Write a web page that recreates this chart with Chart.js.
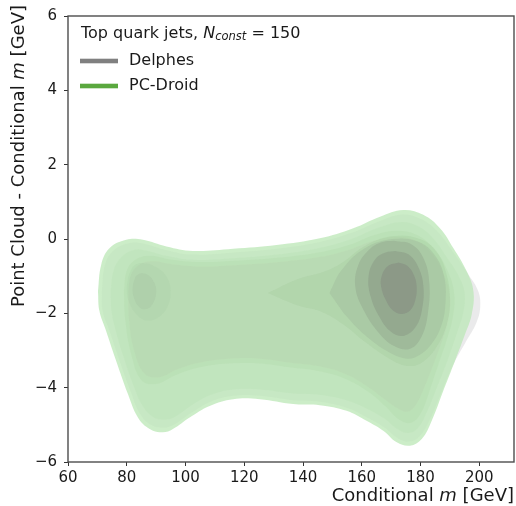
<!DOCTYPE html>
<html>
<head>
<meta charset="utf-8">
<script src="https://cdn.jsdelivr.net/npm/chart.js@4.4.1/dist/chart.umd.min.js"></script>
<style>
  html, body { margin: 0; padding: 0; background: #ffffff; }
  #wrap { width: 516px; height: 506px; }
</style>
</head>
<body>
<div id="wrap"><canvas id="c" width="516" height="506"></canvas></div>
<script>
// Axis ticks
const xTicks = [60, 80, 100, 120, 140, 160, 180, 200];
const yTicks = [-6, -4, -2, 0, 2, 4, 6];

// Legend entries
const legendTitle = 'Top quark jets';
const nConst = 150;
const seriesNames = ['Delphes', 'PC-Droid'];

// KDE contour levels (conditional m [GeV], point cloud - conditional m [GeV])
// Delphes, outermost level
const delphesL1_x = [71.5,72.5,75.2,80.3,85.5,93.5,102.5,116.2,131.0,145.7,157.0,166.0,173.8,180.3,186.0,191.5,196.5,199.6,200.3,199.0,195.5,191.0,187.0,183.2,179.8,176.2,172.2,167.5,161.8,154.8,145.7,136.6,125.3,116.2,108.2,101.5,96.0,92.5,88.2,84.5,81.2,77.3,74.0,71.8];
const delphesL1_y = [-1.41,-0.72,-0.33,-0.12,-0.12,-0.30,-0.42,-0.36,-0.26,-0.08,0.18,0.48,0.66,0.53,0.18,-0.40,-0.98,-1.40,-1.82,-2.25,-2.75,-3.40,-4.15,-4.85,-5.30,-5.45,-5.36,-5.06,-4.80,-4.54,-4.38,-4.34,-4.22,-4.22,-4.39,-4.70,-5.00,-5.08,-5.00,-4.70,-4.08,-3.22,-2.45,-1.94];

// PC-Droid, outermost level
const droidL1_x = [70.2,71.3,74.1,79.8,85.5,93.5,102.5,116.2,131.0,145.7,157.1,166.2,174.1,180.9,186.6,191.2,195.7,198.0,197.4,195.1,191.7,187.7,183.8,180.4,176.4,171.9,167.3,161.6,154.8,145.7,136.6,125.3,116.2,108.2,101.4,95.7,92.3,87.8,83.8,80.4,76.4,73.0,70.7];
const droidL1_y = [-1.41,-0.69,-0.25,-0.02,-0.02,-0.20,-0.32,-0.26,-0.16,0.02,0.29,0.60,0.78,0.65,0.29,-0.25,-0.87,-1.41,-2.03,-2.57,-3.28,-4.09,-4.89,-5.38,-5.56,-5.47,-5.16,-4.89,-4.62,-4.47,-4.44,-4.31,-4.31,-4.49,-4.80,-5.11,-5.20,-5.11,-4.80,-4.17,-3.28,-2.48,-1.94];

// PC-Droid, second level
const droidL2_x = [74.5,75.5,78.0,82.0,86.0,93.5,102.5,116.2,131.0,145.5,156.5,165.5,173.5,179.5,184.5,189.0,193.0,195.0,194.5,192.5,189.5,185.8,182.2,179.2,176.0,172.2,168.0,162.5,155.5,146.0,136.6,125.3,116.2,108.5,102.0,96.5,92.8,88.8,85.3,82.3,78.8,76.0,74.8];
const droidL2_y = [-1.41,-0.85,-0.50,-0.30,-0.30,-0.45,-0.56,-0.52,-0.42,-0.24,0.00,0.30,0.46,0.33,0.00,-0.50,-1.00,-1.45,-2.00,-2.50,-3.20,-3.95,-4.65,-5.08,-5.22,-5.12,-4.85,-4.60,-4.36,-4.20,-4.16,-4.05,-4.05,-4.20,-4.48,-4.78,-4.86,-4.78,-4.48,-3.95,-3.15,-2.40,-1.94];

// Delphes, second level
const delphesL2_x = [80.5,81.5,84.5,89.0,95.5,105.0,118.0,132.0,146.0,156.0,164.0,172.0,178.5,184.0,188.0,190.0,189.5,187.5,184.5,181.5,178.5,175.5,172.0,167.5,161.5,154.0,145.0,135.0,125.0,115.0,105.0,97.5,91.0,86.0,82.5,80.8];
const delphesL2_y = [-1.40,-0.95,-0.68,-0.60,-0.68,-0.74,-0.70,-0.62,-0.48,-0.28,-0.05,0.05,-0.05,-0.42,-0.98,-1.55,-2.15,-2.70,-3.35,-3.95,-4.45,-4.65,-4.55,-4.30,-3.95,-3.62,-3.42,-3.32,-3.22,-3.22,-3.32,-3.50,-3.72,-3.62,-3.00,-2.20];

// PC-Droid, third level
const droidL3_x = [79.0,80.0,83.0,88.0,95.0,105.0,118.0,132.0,146.0,156.0,164.0,172.0,179.0,185.0,189.5,191.5,191.0,189.0,186.0,183.0,180.0,176.5,172.5,168.0,162.0,154.0,145.0,135.0,125.0,115.0,105.0,97.0,90.0,85.0,81.5,79.5];
const droidL3_y = [-1.40,-0.85,-0.55,-0.45,-0.55,-0.62,-0.58,-0.50,-0.35,-0.15,0.10,0.22,0.10,-0.30,-0.90,-1.50,-2.10,-2.70,-3.40,-4.10,-4.70,-4.95,-4.85,-4.50,-4.10,-3.75,-3.55,-3.45,-3.35,-3.35,-3.45,-3.65,-3.90,-3.80,-3.10,-2.20];

// Low-mass lobe
const droidLobe_x = [80.5,82.5,86.0,90.0,93.5,95.0,94.0,91.0,87.0,83.5,81.0,80.0];
const droidLobe_y = [-1.00,-0.72,-0.65,-0.75,-1.00,-1.40,-1.80,-2.10,-2.20,-2.05,-1.75,-1.40];
const delphesLobe_x = [83.0,85.0,87.5,89.5,90.0,89.0,87.0,84.5,82.5,82.0];
const delphesLobe_y = [-1.00,-0.92,-0.98,-1.20,-1.45,-1.72,-1.88,-1.85,-1.60,-1.30];

// Top-mass peak region
const droidL4_x = [128,138,147,153,161.6,170.7,179.8,185.5,188.9,190.0,188.9,185.5,180.9,176.4,170.7,161.6,153.7,146,138];
const droidL4_y = [-1.45,-1.08,-0.88,-0.65,-0.16,0.08,0.0,-0.34,-0.96,-1.65,-2.30,-2.90,-3.30,-3.42,-3.28,-2.80,-2.30,-1.95,-1.78];
const delphesL3_x = [149,153,161,170.5,179.5,185,188,188.5,187,183.5,179,175.5,170,162,155];
const delphesL3_y = [-1.45,-0.85,-0.25,0.0,-0.08,-0.45,-1.0,-1.7,-2.35,-2.85,-3.15,-3.22,-3.08,-2.65,-2.1];
const delphesL4_x = [171,177,181.2,183,182.5,180.5,176.5,171,165.5,160.5,157.8,158.8,163,167];
const delphesL4_y = [-0.05,-0.15,-0.55,-1.2,-2.0,-2.6,-2.95,-2.88,-2.5,-1.9,-1.3,-0.7,-0.25,-0.08];
const delphesL5_x = [171.5,176,179.5,181,180.5,178.5,174.5,170,166,163,162.3,164.5,168];
const delphesL5_y = [-0.32,-0.42,-0.8,-1.3,-1.9,-2.35,-2.6,-2.5,-2.1,-1.55,-1.0,-0.55,-0.36];
const delphesL6_x = [172.5,175.5,177.8,178.7,178.2,176.5,173.5,170.5,168.2,166.6,166.8,169];
const delphesL6_y = [-0.63,-0.72,-0.98,-1.3,-1.65,-1.92,-2.02,-1.92,-1.65,-1.3,-0.98,-0.72];

// Drawing order, bottom to top, with fill styles
const layers = [
  { xs: delphesL1_x,   ys: delphesL1_y,   fill: 'rgba(214,214,216,0.50)' },
  { xs: droidL1_x,     ys: droidL1_y,     fill: 'rgba(190,232,184,0.78)' },
  { xs: droidL2_x,     ys: droidL2_y,     fill: 'rgba(165,210,158,0.14)' },
  { xs: delphesL2_x,   ys: delphesL2_y,   fill: 'rgba(150,160,148,0.09)' },
  { xs: droidL3_x,     ys: droidL3_y,     fill: 'rgba(160,205,152,0.16)' },
  { xs: droidLobe_x,   ys: droidLobe_y,   fill: 'rgba(150,190,145,0.12)' },
  { xs: delphesLobe_x, ys: delphesLobe_y, fill: 'rgba(120,130,118,0.09)' },
  { xs: droidL4_x,     ys: droidL4_y,     fill: 'rgba(150,190,142,0.20)' },
  { xs: delphesL3_x,   ys: delphesL3_y,   fill: 'rgba(120,130,118,0.14)' },
  { xs: delphesL4_x,   ys: delphesL4_y,   fill: 'rgba(115,120,112,0.20)' },
  { xs: delphesL5_x,   ys: delphesL5_y,   fill: 'rgba(115,118,112,0.26)' },
  { xs: delphesL6_x,   ys: delphesL6_y,   fill: 'rgba(125,125,122,0.36)' }
];

const FONT = '"DejaVu Sans", "Liberation Sans", sans-serif';
const minus = v => String(v).replace('-', '\u2212');

const datasets = layers.map((L, i) => {
  const pts = L.xs.map((x, k) => ({ x: x, y: L.ys[k] }));
  pts.push({ x: L.xs[0], y: L.ys[0] });
  return {
    data: pts,
    fill: 'shape',
    backgroundColor: L.fill,
    borderWidth: 0,
    borderColor: 'rgba(0,0,0,0)',
    pointRadius: 0,
    tension: 0.4,
    order: layers.length - i
  };
});

// draws text made of upright / italic pieces starting at x
function drawPieces(ctx, pieces, x, y, size) {
  let cx = x;
  for (const p of pieces) {
    const s = p.size || size;
    ctx.font = (p.italic ? 'italic ' : '') + s + 'px ' + FONT;
    ctx.fillText(p.t, cx, y + (p.dy || 0));
    cx += ctx.measureText(p.t).width;
  }
  return cx - x;
}
function measurePieces(ctx, pieces, size) {
  let w = 0;
  for (const p of pieces) {
    const s = p.size || size;
    ctx.font = (p.italic ? 'italic ' : '') + s + 'px ' + FONT;
    w += ctx.measureText(p.t).width;
  }
  return w;
}

const decorations = {
  id: 'decorations',
  afterDraw(chart) {
    const ctx = chart.ctx;
    const a = chart.chartArea;
    ctx.save();
    // frame
    ctx.strokeStyle = '#4d4d4d';
    ctx.lineWidth = 1.4;
    ctx.strokeRect(a.left, a.top, a.right - a.left, a.bottom - a.top);

    ctx.fillStyle = '#1a1a1a';
    ctx.textBaseline = 'middle';
    ctx.textAlign = 'left';

    // x axis title, right aligned
    const xt = [{ t: 'Conditional ' }, { t: 'm', italic: true }, { t: ' [GeV]' }];
    const xw = measurePieces(ctx, xt, 18);
    drawPieces(ctx, xt, a.right - xw, 496, 18);

    // y axis title, top aligned
    const yt = [{ t: 'Point Cloud - Conditional ' }, { t: 'm', italic: true }, { t: ' [GeV]' }];
    const yw = measurePieces(ctx, yt, 18);
    ctx.save();
    ctx.translate(19, 5 + yw);
    ctx.rotate(-Math.PI / 2);
    drawPieces(ctx, yt, 0, 0, 18);
    ctx.restore();

    // legend
    const lx = 81;
    drawPieces(ctx, [
      { t: legendTitle + ', ' },
      { t: 'N', italic: true },
      { t: 'const', italic: true, size: 11.5, dy: 3.5 },
      { t: ' = ' + nConst }
    ], lx, 34, 16);
    const handleColors = ['#808080', '#5aa83e'];
    const rowsY = [61, 86];
    seriesNames.forEach((name, i) => {
      ctx.fillStyle = handleColors[i];
      ctx.fillRect(lx - 1, rowsY[i] - 2.3, 38, 4.6);
      ctx.fillStyle = '#1a1a1a';
      ctx.font = '16px ' + FONT;
      ctx.fillText(name, lx + 48, rowsY[i]);
    });
    ctx.restore();
  }
};

new Chart(document.getElementById('c'), {
  type: 'line',
  data: { datasets: datasets },
  options: {
    responsive: false,
    animation: false,
    events: [],
    devicePixelRatio: 1,
    layout: { padding: { top: 13, right: 2, left: 0, bottom: 0 } },
    plugins: { legend: { display: false }, tooltip: { enabled: false } },
    scales: {
      x: {
        type: 'linear',
        min: 60,
        max: 211.8,
        afterBuildTicks: s => { s.ticks = xTicks.map(v => ({ value: v })); },
        afterFit: s => { s.height = 44; },
        border: { display: false },
        grid: { drawOnChartArea: false, tickLength: 4, color: '#333333', lineWidth: 1 },
        ticks: { font: { family: FONT, size: 15 }, color: '#1a1a1a', padding: 3, maxRotation: 0, autoSkip: false, callback: v => minus(v) }
      },
      y: {
        type: 'linear',
        min: -6,
        max: 6,
        afterBuildTicks: s => { s.ticks = yTicks.map(v => ({ value: v })); },
        afterFit: s => { s.width = 68; },
        border: { display: false },
        grid: { drawOnChartArea: false, tickLength: 4, color: '#333333', lineWidth: 1 },
        ticks: { font: { family: FONT, size: 15 }, color: '#1a1a1a', padding: 7, autoSkip: false, callback: v => minus(v) }
      }
    }
  },
  plugins: [decorations]
});
</script>
</body>
</html>
